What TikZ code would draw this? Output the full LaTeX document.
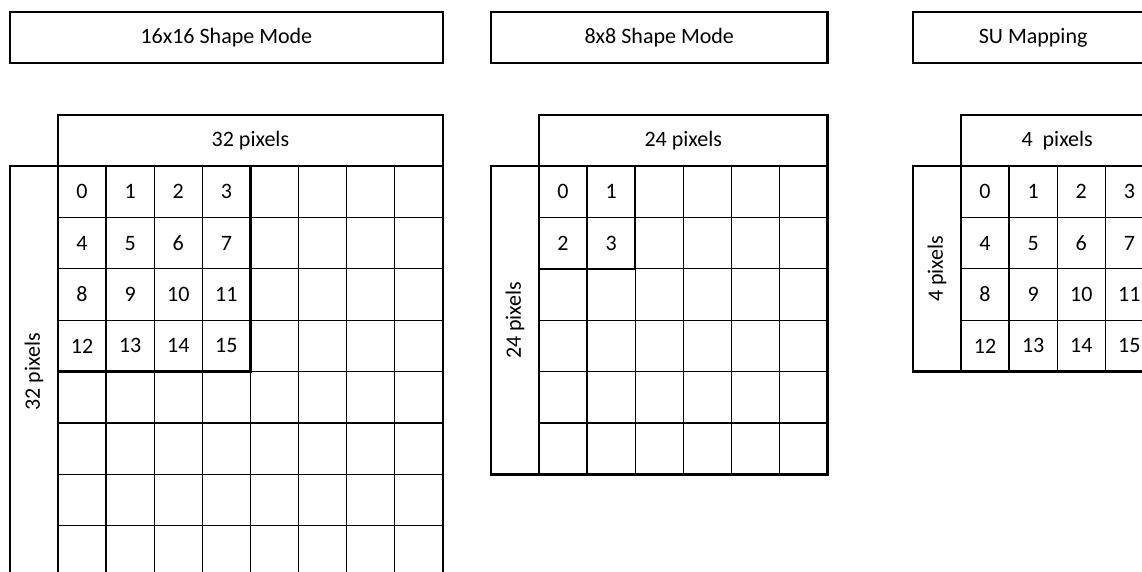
\documentclass[tikz,border=0pt]{standalone}
\usepackage{fontspec}
\setmainfont{Carlito}
\usetikzlibrary{positioning}
\newcommand{\cellw}{48.1}
\newcommand{\rowh}{51.4}
\newcommand{\gridtop}{166}
\tikzset{
  modebox/.style={draw, line width=2.6pt, inner sep=0pt, minimum height=51pt, font=\fontsize{22}{26}\selectfont},
  pixbox/.style={draw, line width=2.6pt, inner sep=0pt, font=\fontsize{22}{26}\selectfont},
  cellnum/.style={inner sep=0pt, font=\fontsize{22}{26}\selectfont},
  thinline/.style={line width=1.3pt},
  thickline/.style={line width=2.4pt}
}

\begin{document}
\begin{tikzpicture}[x=1pt, y=-1pt]
  \useasboundingbox (0,0) rectangle (1142,571);
  \clip (0,0) rectangle (1142,571);
  \fill[white] (0,0) rectangle (1142,571);
  \foreach \tag/\gx/\n/\sub/\ttl/\hd/\sd in {a/58/8/4/16x16 Shape Mode/32 pixels/32 pixels, b/539/6/2/8x8 Shape Mode/24 pixels/24 pixels, c/961/4/4/SU Mapping/4~~pixels/4 pixels} {
    \pgfmathsetmacro{\gr}{\gx+\n*\cellw}
    \pgfmathsetmacro{\gb}{\gridtop+\n*\rowh}
    \pgfmathsetmacro{\lx}{\gx-\cellw}
    \pgfmathsetmacro{\tw}{\gr-\lx}
    \pgfmathsetmacro{\hw}{\gr-\gx}
    \pgfmathsetmacro{\sh}{\gb-\gridtop}
    % grid lines
    \foreach \k in {1,...,\n} {
      \draw[thinline] ({\gx+\k*\cellw},\gridtop) -- ({\gx+\k*\cellw},\gb);
      \draw[thinline] (\gx,{\gridtop+\k*\rowh}) -- (\gr,{\gridtop+\k*\rowh});
    }
    % numbered block
    \foreach \i in {1,...,\sub} {
      \foreach \j in {1,...,\sub} {
        \pgfmathtruncatemacro{\num}{(\i-1)*\sub+\j-1}
        \node[cellnum] (\tag-\num) at ({\gx+(\j-0.5)*\cellw},{\gridtop+(\i-0.5)*\rowh}) {\num};
      }
    }
    \draw[thickline] (\gx,\gridtop) rectangle ({\gx+\sub*\cellw},{\gridtop+\sub*\rowh});
    \draw[thickline] (\gx,\gridtop) rectangle (\gr,\gb);
    % title, header and side label
    \node[modebox, minimum width=\tw pt] (title-\tag) at ({(\lx+\gr)/2},37.5) {\ttl};
    \node[pixbox, minimum width=\hw pt, minimum height=51pt] (head-\tag) at ({(\gx+\gr)/2},140.5) {\hd};
    \node[pixbox, rotate=90, minimum width=\sh pt, minimum height=\cellw pt] (side-\tag) at ({(\lx+\gx)/2},{(\gridtop+\gb)/2}) {\sd};
  }
\end{tikzpicture}
\end{document}
